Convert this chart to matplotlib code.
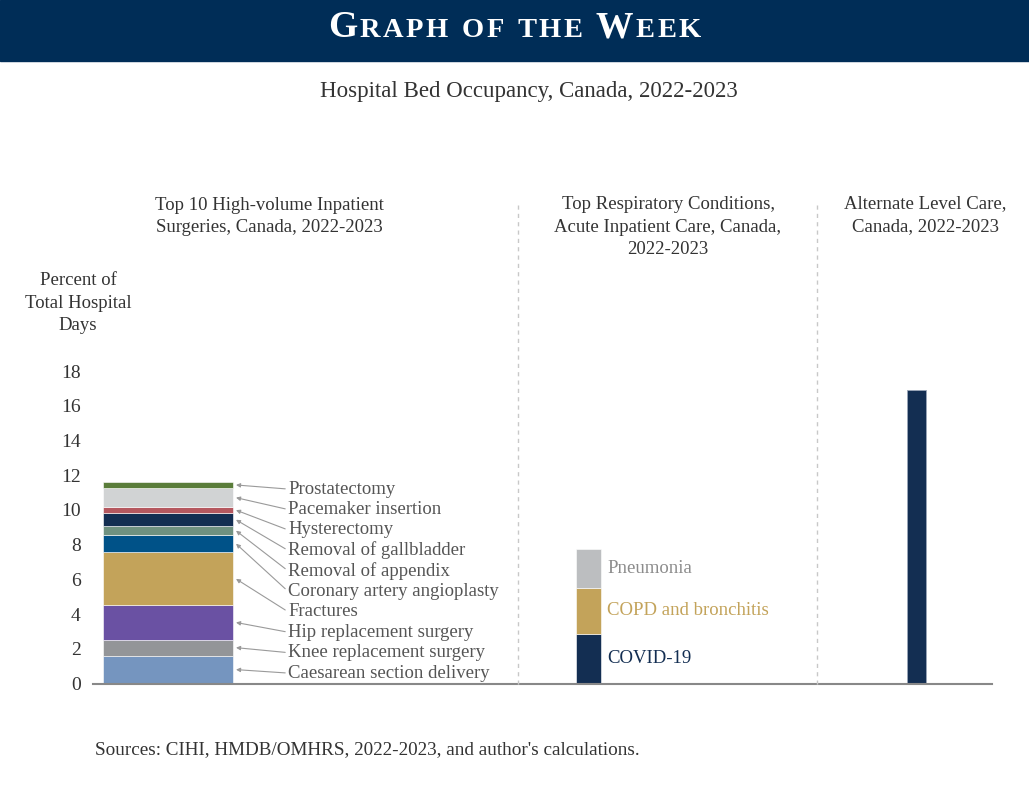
import numpy as np
import matplotlib
matplotlib.use('Agg')
from matplotlib import pyplot as plt
from matplotlib.lines import Line2D
from matplotlib.patches import Rectangle

plt.rcParams['font.family'] = ['Liberation Serif', 'DejaVu Serif']

# data (percent of total hospital days)
surgeries = ['Caesarean section delivery', 'Knee replacement surgery', 'Hip replacement surgery',
             'Fractures', 'Coronary artery angioplasty', 'Removal of appendix',
             'Removal of gallbladder', 'Hysterectomy', 'Pacemaker insertion', 'Prostatectomy']
surgery_vals = [1.6, 0.93, 1.97, 3.05, 1.0, 0.5, 0.76, 0.35, 1.09, 0.37]
surgery_colors = ['#7595bf', '#939598', '#6a51a3', '#c3a35a', '#005288',
                  '#6f9180', '#132e52', '#b5585f', '#d1d3d4', '#5a7d3a']

resp = ['COVID-19', 'COPD and bronchitis', 'Pneumonia']
resp_vals = [2.86, 2.64, 2.25]
resp_colors = ['#132e52', '#c3a35a', '#bcbec0']
resp_text_colors = ['#132e52', '#c3a35a', '#8c8c8c']

alc_val = 16.9

yticks = [0, 2, 4, 6, 8, 10, 12, 14, 16, 18]

W, H = 1029, 785
fig = plt.figure(figsize=(W / 100, H / 100), dpi=100)

def fx(x):
    return x / W

def fy(y):
    return 1 - y / H

ax = fig.add_axes([fx(93), fy(683.5), fx(992 - 93), (683.5 - 371) / H])

# header banner
fig.patches.append(Rectangle((0, fy(61)), 1, 61 / H, transform=fig.transFigure,
                             color='#002d57', zorder=-1))

# fake small caps title, one letter at a time with a bit of tracking
header = 'GRAPH OF THE WEEK'
big_idx = [0, 13]
texts = []
gap = 0
for i, ch in enumerate(header):
    if ch == ' ':
        gap += 8
        continue
    size = 27 if i in big_idx else 20.5
    if not texts:
        t = fig.text(0.3, fy(37), ch, fontsize=size, color='white',
                     fontweight='bold', va='baseline', ha='left')
    else:
        t = ax.annotate(ch, xy=(1, fy(37)), xycoords=(texts[-1], 'figure fraction'),
                        xytext=(gap + 1.8, 0), textcoords='offset points',
                        fontsize=size, color='white', fontweight='bold',
                        va='baseline', ha='left', annotation_clip=False)
    texts.append(t)
    gap = 0

# left stacked bar
left_x, left_w = 168, 130
bottom = 0
mids = []
for name, v, c in zip(surgeries, surgery_vals, surgery_colors):
    ax.bar(left_x, v, width=left_w, bottom=bottom, color=c, edgecolor='white', linewidth=0.4)
    mids.append(bottom + v / 2)
    bottom += v

label_y = np.linspace(0.6, 11.2, len(surgeries))
for name, m, ly in zip(surgeries, mids, label_y):
    ax.annotate(name, xy=(left_x + left_w / 2 + 3, m), xytext=(288, ly),
                fontsize=13.5, color='#555555', ha='left', va='center',
                arrowprops=dict(arrowstyle='-|>', color='#9a9a9a', lw=0.8,
                                mutation_scale=6, shrinkA=0, shrinkB=0, relpos=(0, 0.5)))

# middle stacked bar
mid_x, mid_w = 588.5, 25
bottom = 0
for name, v, c, tc in zip(resp, resp_vals, resp_colors, resp_text_colors):
    ax.bar(mid_x, v, width=mid_w, bottom=bottom, color=c, edgecolor='white', linewidth=0.4)
    ax.text(607, bottom + v / 2, name, fontsize=13.5, color=tc, ha='left', va='center')
    bottom += v

# right bar
ax.bar(916.5, alc_val, width=19, color='#132e52', edgecolor='#9aa6b8', linewidth=0.6)

ax.set_xlim(93, 992)
ax.set_ylim(0, 18)
ax.set_yticks(yticks)
ax.tick_params(axis='y', length=0, pad=9, labelsize=14, labelcolor='#333333')
ax.set_xticks([])
for s in ['top', 'right', 'left']:
    ax.spines[s].set_visible(False)
ax.spines['bottom'].set_color('#888888')
ax.spines['bottom'].set_linewidth(1.5)
ax.patch.set_alpha(0)

# dashed separators
for x in [518, 817]:
    fig.add_artist(Line2D([fx(x), fx(x)], [fy(205), fy(688)], transform=fig.transFigure,
                          color='#c8c8c8', lw=1, linestyle=(0, (3, 3))))

# titles
fig.text(fx(529), fy(97), 'Hospital Bed Occupancy, Canada, 2022-2023', fontsize=16.5,
         color='#333333', ha='center', va='baseline')
fig.text(fx(269.5), fy(216.5), 'Top 10 High-volume Inpatient\nSurgeries, Canada, 2022-2023',
         fontsize=13.5, color='#333333', ha='center', va='center', linespacing=1.45)
fig.text(fx(668), fy(227), 'Top Respiratory Conditions,\nAcute Inpatient Care, Canada,\n2022-2023',
         fontsize=13.5, color='#333333', ha='center', va='center', linespacing=1.45)
fig.text(fx(925), fy(215.5), 'Alternate Level Care,\nCanada, 2022-2023',
         fontsize=13.5, color='#333333', ha='center', va='center', linespacing=1.45)
fig.text(fx(78), fy(303), 'Percent of\nTotal Hospital\nDays', fontsize=13.5,
         color='#333333', ha='center', va='center', linespacing=1.45)
fig.text(fx(95), fy(750), "Sources: CIHI, HMDB/OMHRS, 2022-2023, and author's calculations.",
         fontsize=13.8, color='#333333', ha='left', va='center')

# center the header
fig.canvas.draw()
r = fig.canvas.get_renderer()
x0 = texts[0].get_window_extent(r).x0
x1 = texts[-1].get_window_extent(r).x1
width = x1 - x0
texts[0].set_x((W / 2 - width / 2) / W)

fig.savefig('out.png', dpi=100)
